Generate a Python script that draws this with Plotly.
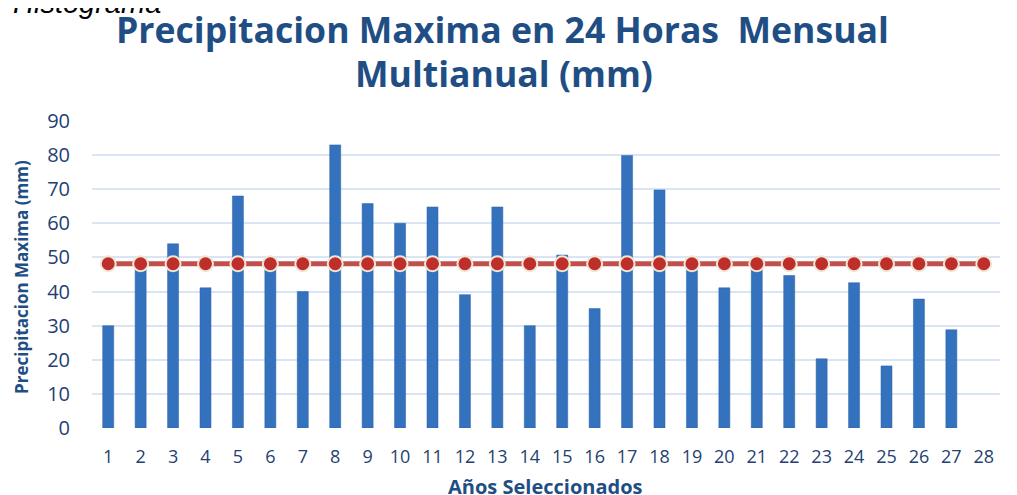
import plotly.graph_objects as go

categories = list(range(1, 29))
precip = [30.0, 48.0, 54.0, 41.1, 68.0, 47.0, 40.0, 83.0, 65.8, 60.0, 64.8, 39.1, 64.8, 30.0,
          50.7, 35.0, 79.9, 69.8, 47.0, 41.1, 48.0, 44.7, 20.3, 42.6, 18.2, 37.8, 28.8, None]
mean_val = [48.15] * 28
yticks = [0, 10, 20, 30, 40, 50, 60, 70, 80, 90]

title_color = "#1F4E85"
tick_color = "#243F72"
font_fam = "Open Sans"

fig = go.Figure()
fig.add_trace(go.Bar(
    x=categories, y=precip, width=0.34,
    marker=dict(color="#3472BE", line=dict(color="#2C62A8", width=0.5)),
    showlegend=False,
))
fig.add_trace(go.Scatter(
    x=categories, y=mean_val, mode="lines+markers",
    line=dict(color="#C0504D", width=5),
    marker=dict(size=15, color="#BE2F2C", line=dict(color="#EFE6D6", width=2)),
    showlegend=False,
))

fig.update_layout(
    width=1017, height=495,
    margin=dict(l=84, r=25, t=113, b=75),
    paper_bgcolor="white", plot_bgcolor="white",
    xaxis=dict(
        range=[0.5, 28.5], tickmode="array", tickvals=categories,
        ticktext=[str(c) for c in categories],
        showgrid=False, zeroline=False, showline=False, automargin=False,
        ticks="outside", ticklen=12, tickcolor="rgba(0,0,0,0)",
        tickfont=dict(family=font_fam, size=18, color=tick_color),
    ),
    yaxis=dict(
        range=[0, 90], tickmode="array", tickvals=yticks,
        showgrid=True, gridcolor="#D9E5F4", gridwidth=1.5,
        zeroline=False, showline=False, automargin=False,
        ticks="outside", ticklen=17, tickcolor="rgba(0,0,0,0)",
        tickfont=dict(family=font_fam, size=20, color=tick_color),
    ),
    bargap=0.6,
)

# Title lines
fig.add_annotation(
    text="<b>Precipitacion Maxima en 24 Horas  Mensual</b>", xref="paper", yref="paper",
    x=0.4526, y=1.2997, xanchor="center", yanchor="middle", showarrow=False,
    font=dict(family=font_fam, size=35.6, color=title_color),
)
fig.add_annotation(
    text="<b>Multianual (mm)</b>", xref="paper", yref="paper",
    x=0.4537, y=1.1564, xanchor="center", yanchor="middle", showarrow=False,
    font=dict(family=font_fam, size=35.6, color=title_color),
)
# Axis titles
fig.add_annotation(
    text="<b>Años Seleccionados</b>", xref="paper", yref="paper",
    x=0.499, y=-0.192, xanchor="center", yanchor="middle", showarrow=False,
    font=dict(family=font_fam, size=20, color=title_color),
)
fig.add_annotation(
    text="<b>Precipitacion Maxima (mm)</b>", xref="paper", yref="paper",
    x=-0.0771, y=0.492, xanchor="center", yanchor="middle", showarrow=False,
    textangle=-90,
    font=dict(family=font_fam, size=17, color=title_color),
)

fig.add_annotation(
    text="<i>Histograma</i>", xref="paper", yref="paper",
    x=-0.0892, y=1.384, xanchor="left", yanchor="middle", showarrow=False,
    font=dict(family="Liberation Sans", size=29, color="black"),
)

fig.write_html("out.html")
